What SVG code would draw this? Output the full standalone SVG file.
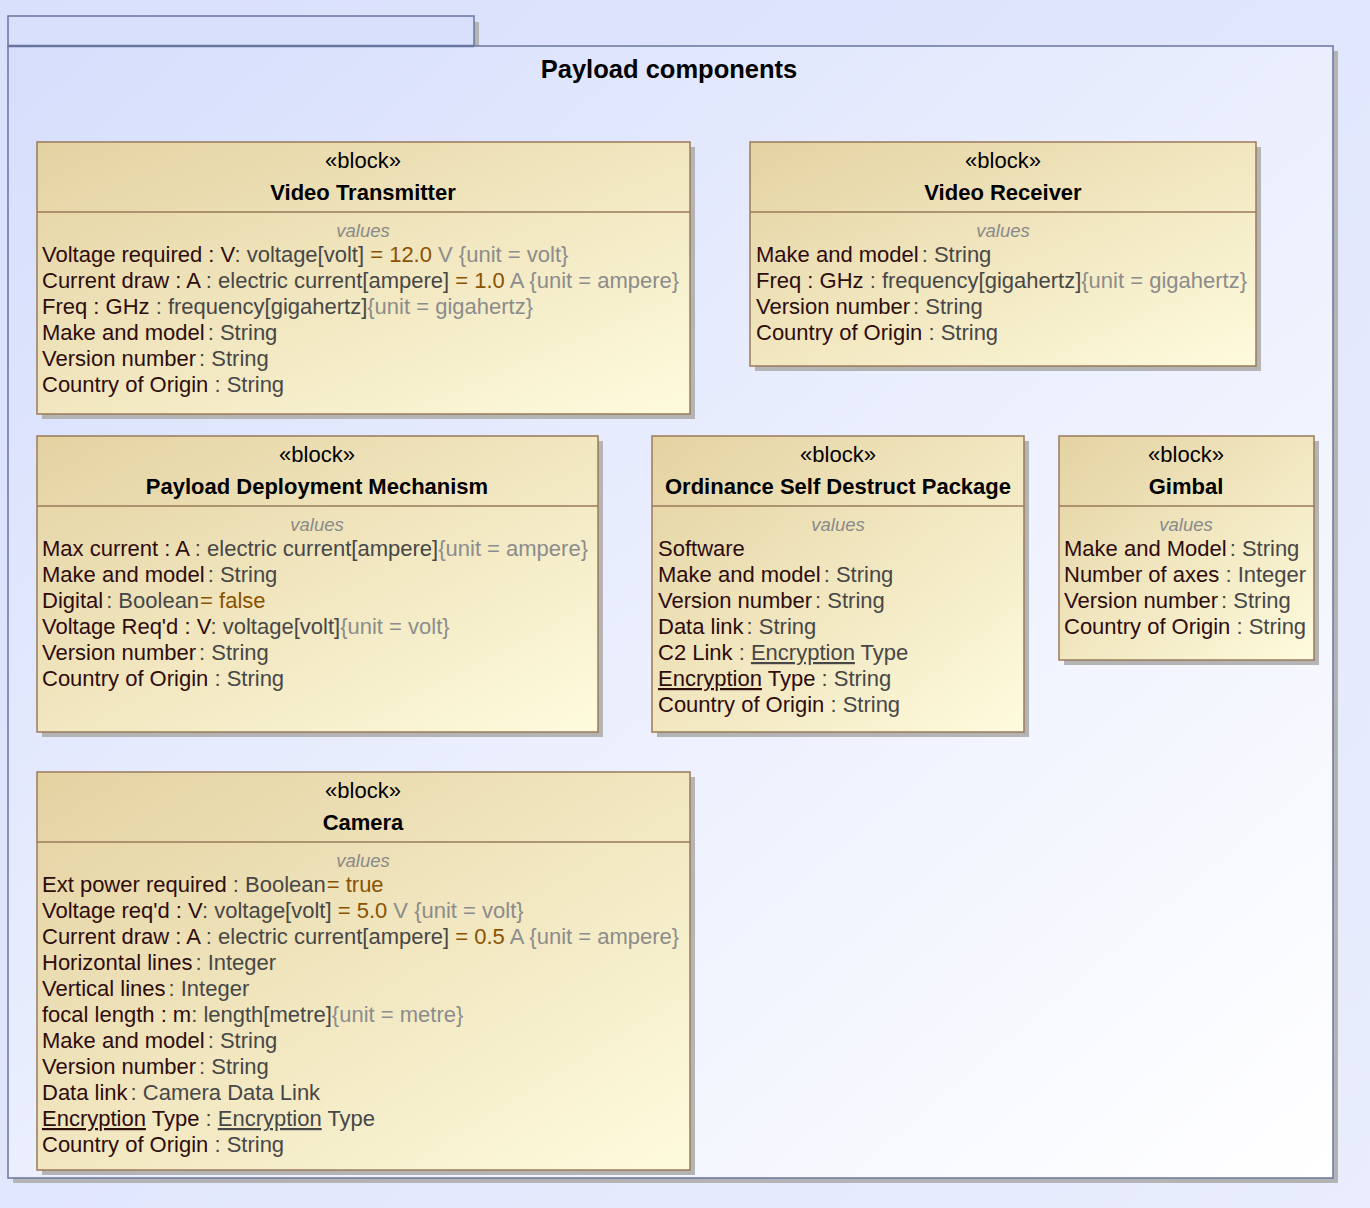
<svg xmlns="http://www.w3.org/2000/svg" width="1370" height="1208" viewBox="0 0 1370 1208">
<style>
text{font-family:"Liberation Sans",Arial,sans-serif;}
.st{font-size:22px;fill:#000;text-anchor:middle}
.nm{font-size:22px;font-weight:bold;fill:#000;text-anchor:middle}
.vl{font-size:18.5px;font-style:italic;fill:#8a8a8a;text-anchor:middle}
.ln{font-size:22px}
.n{fill:#2e0c0c}
.t{fill:#474747}
.v{fill:#8a5200}
.u{fill:#8c8c8c}
.ul{text-decoration:underline}
.blk{fill:url(#bg);stroke:#9a7a5a;stroke-width:1.5}
.sh{fill:#b4b4b4}
.dv{stroke:#9a7a5a;stroke-width:1.5}
</style>
<defs>
<linearGradient id="page" x1="0" y1="0" x2="1" y2="1">
<stop offset="0" stop-color="#d9e0fc"/><stop offset="1" stop-color="#e9edfd"/>
</linearGradient>
<linearGradient id="pkg" x1="0" y1="0" x2="1" y2="1">
<stop offset="0" stop-color="#d6defc"/><stop offset="1" stop-color="#ffffff"/>
</linearGradient>
<linearGradient id="bg" x1="0" y1="0" x2="1" y2="1">
<stop offset="0" stop-color="#e4d2a2"/><stop offset="1" stop-color="#fefbdd"/>
</linearGradient>
</defs>
<rect width="1370" height="1208" fill="url(#page)"/>
<g id="package">
<rect x="474" y="22" width="5" height="24" fill="#b4b4b4"/>
<rect x="1333" y="51" width="5" height="1132" fill="#b4b4b4"/>
<rect x="13" y="1178" width="1325" height="5" fill="#b4b4b4"/>
<rect x="8" y="16" width="466" height="30" fill="#d8e0fc" stroke="#6b76a0" stroke-width="1.5"/>
<rect x="8" y="46" width="1325" height="1132" fill="url(#pkg)" stroke="#6b76a0" stroke-width="1.5"/>
<line x1="8" y1="46" x2="474" y2="46" stroke="#6b76a0" stroke-width="2.5"/>
<text x="669" y="78" font-size="25.5" font-weight="bold" text-anchor="middle" fill="#000">Payload components</text>
</g>
<g id="connectors"/>
<g id="video-transmitter">
<rect class="sh" x="42" y="147" width="653" height="272"/>
<rect class="blk" x="37" y="142" width="653" height="272"/>
<line class="dv" x1="37" y1="212" x2="690" y2="212"/>
<text class="st" x="363" y="168">«block»</text>
<text class="nm" x="363" y="200">Video Transmitter</text>
<text class="vl" x="363" y="237">values</text>
<text class="ln" x="42" y="262"><tspan class="n">Voltage required : V</tspan><tspan class="t">: voltage[volt]</tspan><tspan class="v"> = 12.0</tspan><tspan class="u"> V {unit = volt}</tspan></text>
<text class="ln" x="42" y="288"><tspan class="n">Current draw : A</tspan><tspan class="t"> : electric current[ampere]</tspan><tspan class="v"> = 1.0</tspan><tspan class="u"> A {unit = ampere}</tspan></text>
<text class="ln" x="42" y="314"><tspan class="n">Freq : GHz</tspan><tspan class="t"> : frequency[gigahertz]</tspan><tspan class="u">{unit = gigahertz}</tspan></text>
<text class="ln" x="42" y="340"><tspan class="n">Make and model</tspan><tspan class="t" dx="3">: String</tspan></text>
<text class="ln" x="42" y="366"><tspan class="n">Version number</tspan><tspan class="t" dx="3">: String</tspan></text>
<text class="ln" x="42" y="392"><tspan class="n">Country of Origin</tspan><tspan class="t"> : String</tspan></text>
</g>
<g id="video-receiver">
<rect class="sh" x="755" y="147" width="506" height="224"/>
<rect class="blk" x="750" y="142" width="506" height="224"/>
<line class="dv" x1="750" y1="212" x2="1256" y2="212"/>
<text class="st" x="1003" y="168">«block»</text>
<text class="nm" x="1003" y="200">Video Receiver</text>
<text class="vl" x="1003" y="237">values</text>
<text class="ln" x="756" y="262"><tspan class="n">Make and model</tspan><tspan class="t" dx="3">: String</tspan></text>
<text class="ln" x="756" y="288"><tspan class="n">Freq : GHz</tspan><tspan class="t"> : frequency[gigahertz]</tspan><tspan class="u">{unit = gigahertz}</tspan></text>
<text class="ln" x="756" y="314"><tspan class="n">Version number</tspan><tspan class="t" dx="3">: String</tspan></text>
<text class="ln" x="756" y="340"><tspan class="n">Country of Origin</tspan><tspan class="t"> : String</tspan></text>
</g>
<g id="payload-deployment-mechanism">
<rect class="sh" x="42" y="441" width="561" height="296"/>
<rect class="blk" x="37" y="436" width="561" height="296"/>
<line class="dv" x1="37" y1="506" x2="598" y2="506"/>
<text class="st" x="317" y="462">«block»</text>
<text class="nm" x="317" y="494">Payload Deployment Mechanism</text>
<text class="vl" x="317" y="531">values</text>
<text class="ln" x="42" y="556"><tspan class="n">Max current : A</tspan><tspan class="t"> : electric current[ampere]</tspan><tspan class="u">{unit = ampere}</tspan></text>
<text class="ln" x="42" y="582"><tspan class="n">Make and model</tspan><tspan class="t" dx="3">: String</tspan></text>
<text class="ln" x="42" y="608"><tspan class="n">Digital</tspan><tspan class="t" dx="3">: Boolean</tspan><tspan class="v" dx="1">= false</tspan></text>
<text class="ln" x="42" y="634"><tspan class="n">Voltage Req'd : V</tspan><tspan class="t">: voltage[volt]</tspan><tspan class="u">{unit = volt}</tspan></text>
<text class="ln" x="42" y="660"><tspan class="n">Version number</tspan><tspan class="t" dx="3">: String</tspan></text>
<text class="ln" x="42" y="686"><tspan class="n">Country of Origin</tspan><tspan class="t"> : String</tspan></text>
</g>
<g id="ordinance-self-destruct-package">
<rect class="sh" x="657" y="441" width="372" height="296"/>
<rect class="blk" x="652" y="436" width="372" height="296"/>
<line class="dv" x1="652" y1="506" x2="1024" y2="506"/>
<text class="st" x="838" y="462">«block»</text>
<text class="nm" x="838" y="494">Ordinance Self Destruct Package</text>
<text class="vl" x="838" y="531">values</text>
<text class="ln" x="658" y="556"><tspan class="n">Software</tspan></text>
<text class="ln" x="658" y="582"><tspan class="n">Make and model</tspan><tspan class="t" dx="3">: String</tspan></text>
<text class="ln" x="658" y="608"><tspan class="n">Version number</tspan><tspan class="t" dx="3">: String</tspan></text>
<text class="ln" x="658" y="634"><tspan class="n">Data link</tspan><tspan class="t" dx="3">: String</tspan></text>
<text class="ln" x="658" y="660"><tspan class="n">C2 Link</tspan><tspan class="t"> : </tspan><tspan class="t ul">Encryption</tspan><tspan class="t"> Type</tspan></text>
<text class="ln" x="658" y="686"><tspan class="n ul">Encryption</tspan><tspan class="n"> Type</tspan><tspan class="t"> : String</tspan></text>
<text class="ln" x="658" y="712"><tspan class="n">Country of Origin</tspan><tspan class="t"> : String</tspan></text>
</g>
<g id="gimbal">
<rect class="sh" x="1064" y="441" width="255" height="224"/>
<rect class="blk" x="1059" y="436" width="255" height="224"/>
<line class="dv" x1="1059" y1="506" x2="1314" y2="506"/>
<text class="st" x="1186" y="462">«block»</text>
<text class="nm" x="1186" y="494">Gimbal</text>
<text class="vl" x="1186" y="531">values</text>
<text class="ln" x="1064" y="556"><tspan class="n">Make and Model</tspan><tspan class="t" dx="3">: String</tspan></text>
<text class="ln" x="1064" y="582"><tspan class="n">Number of axes</tspan><tspan class="t"> : Integer</tspan></text>
<text class="ln" x="1064" y="608"><tspan class="n">Version number</tspan><tspan class="t" dx="3">: String</tspan></text>
<text class="ln" x="1064" y="634"><tspan class="n">Country of Origin</tspan><tspan class="t"> : String</tspan></text>
</g>
<g id="camera">
<rect class="sh" x="42" y="777" width="653" height="398"/>
<rect class="blk" x="37" y="772" width="653" height="398"/>
<line class="dv" x1="37" y1="842" x2="690" y2="842"/>
<text class="st" x="363" y="798">«block»</text>
<text class="nm" x="363" y="830">Camera</text>
<text class="vl" x="363" y="867">values</text>
<text class="ln" x="42" y="892"><tspan class="n">Ext power required</tspan><tspan class="t"> : Boolean</tspan><tspan class="v" dx="1">= true</tspan></text>
<text class="ln" x="42" y="918"><tspan class="n">Voltage req'd : V</tspan><tspan class="t">: voltage[volt]</tspan><tspan class="v"> = 5.0</tspan><tspan class="u"> V {unit = volt}</tspan></text>
<text class="ln" x="42" y="944"><tspan class="n">Current draw : A</tspan><tspan class="t"> : electric current[ampere]</tspan><tspan class="v"> = 0.5</tspan><tspan class="u"> A {unit = ampere}</tspan></text>
<text class="ln" x="42" y="970"><tspan class="n">Horizontal lines</tspan><tspan class="t" dx="3">: Integer</tspan></text>
<text class="ln" x="42" y="996"><tspan class="n">Vertical lines</tspan><tspan class="t" dx="3">: Integer</tspan></text>
<text class="ln" x="42" y="1022"><tspan class="n">focal length : m</tspan><tspan class="t">: length[metre]</tspan><tspan class="u">{unit = metre}</tspan></text>
<text class="ln" x="42" y="1048"><tspan class="n">Make and model</tspan><tspan class="t" dx="3">: String</tspan></text>
<text class="ln" x="42" y="1074"><tspan class="n">Version number</tspan><tspan class="t" dx="3">: String</tspan></text>
<text class="ln" x="42" y="1100"><tspan class="n">Data link</tspan><tspan class="t" dx="3">: Camera Data Link</tspan></text>
<text class="ln" x="42" y="1126"><tspan class="n ul">Encryption</tspan><tspan class="n"> Type</tspan><tspan class="t"> : </tspan><tspan class="t ul">Encryption</tspan><tspan class="t"> Type</tspan></text>
<text class="ln" x="42" y="1152"><tspan class="n">Country of Origin</tspan><tspan class="t"> : String</tspan></text>
</g>
</svg>
